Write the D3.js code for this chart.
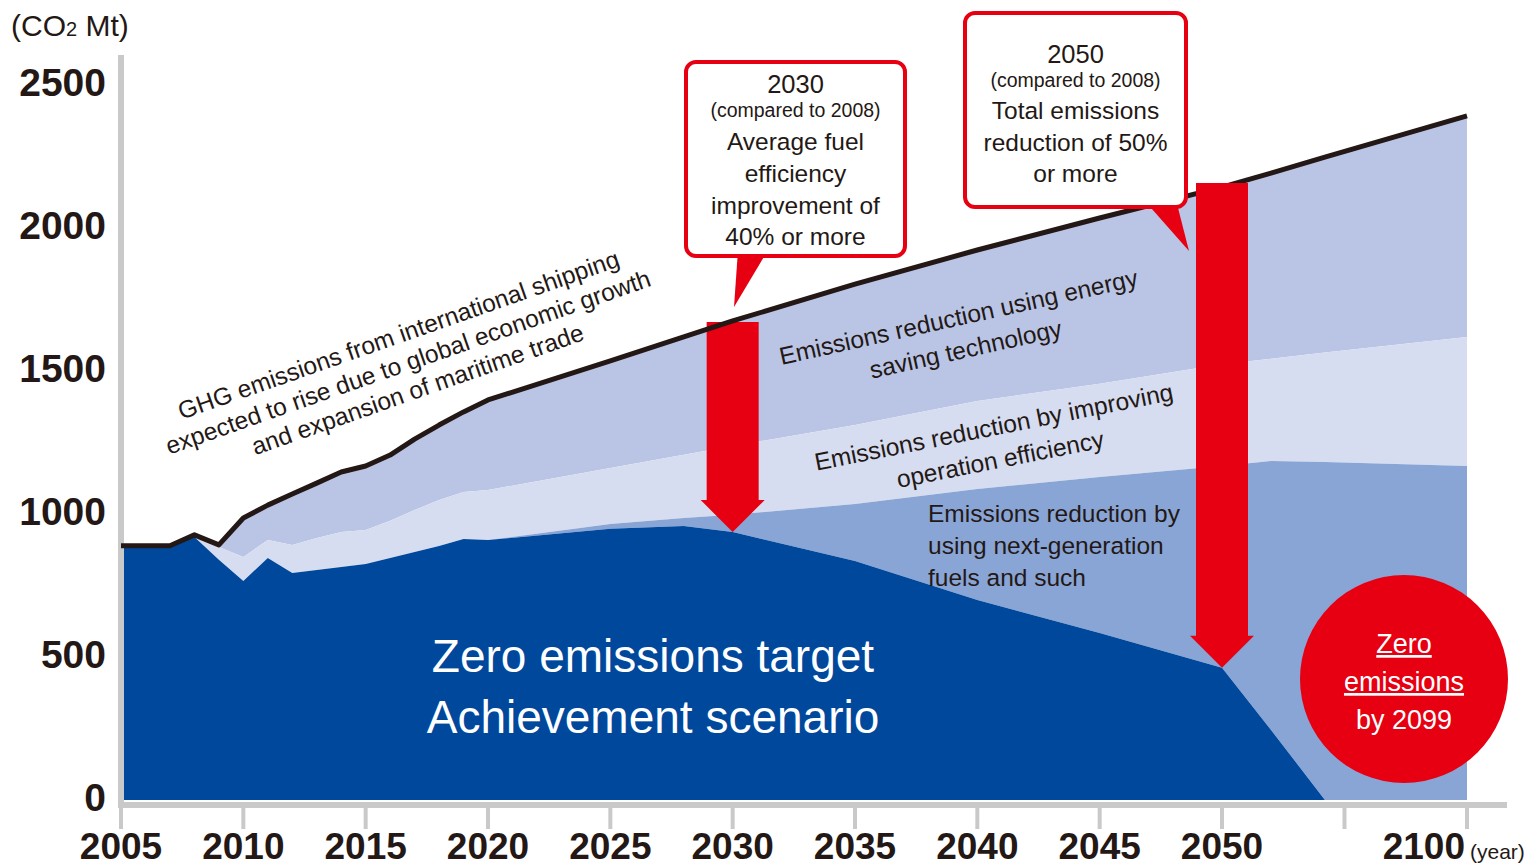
<!DOCTYPE html>
<html>
<head>
<meta charset="utf-8">
<script src="https://cdn.jsdelivr.net/npm/d3@7"></script>
<style>
  body { margin: 0; background: #fff; }
  svg text { font-family: "Liberation Sans", Arial, sans-serif; fill: #231815; }
</style>
</head>
<body>
<div id="chart"></div>
<script>
var width = 1529;
var height = 867;

// years on the x axis (2050 -> 2100 is compressed)
var years   = [2005,2006,2007,2008,2009,2010,2011,2012,2013,2014,2015,2016,2017,2018,2019,2020,2025,2028,2030,2035,2040,2045,2050,2060,2071,2100];
// business as usual total (black line)
var bau     = [889,889,889,927,892,986,1031,1070,1108,1147,1168,1206,1262,1311,1357,1399,1535,1619,1675,1804,1923,2035,2143,2192,2248,2392];
// top of "operation efficiency" band
var opTop   = [889,889,889,927,885,850,909,892,916,937,944,976,1014,1049,1077,1084,1161,1207,1238,1311,1395,1455,1524,1543,1565,1619];
// top of "next-generation fuels" band
var fuelTop = [889,889,889,920,840,766,846,794,804,815,825,846,867,888,913,909,965,986,997,1035,1087,1129,1168,1185,1182,1168];
// zero emissions scenario
var zero    = [889,889,889,920,840,766,846,794,804,815,825,846,867,888,913,909,948,958,937,836,699,584,462,245,0,0];

var yTicks = [0, 500, 1000, 1500, 2000, 2500];
var xTicks = [2005,2010,2015,2020,2025,2030,2035,2040,2045,2050,2075,2100];
var xLabels = {2005:"2005",2010:"2010",2015:"2015",2020:"2020",2025:"2025",2030:"2030",
               2035:"2035",2040:"2040",2045:"2045",2050:"2050",2075:"",2100:"2100"};

var svg = d3.select("#chart").append("svg")
    .attr("width", width)
    .attr("height", height);

var x = d3.scaleLinear().domain([2005, 2050, 2100]).range([121, 1222, 1467]);
var y = d3.scaleLinear().domain([0, 2500]).range([800, 85]);

var rows = years.map(function(yr, i) {
  return { year: yr, bau: bau[i], op: opTop[i], fuel: fuelTop[i], zero: zero[i] };
});

// stacked bands, drawn between boundaries
function band(lo, hi) {
  return d3.area()
    .x(function(d) { return x(d.year); })
    .y0(function(d) { return lo ? y(d[lo]) : y(0); })
    .y1(function(d) { return y(d[hi]); });
}

svg.append("path").datum(rows).attr("fill", "#bac5e6").attr("d", band("op", "bau"));
svg.append("path").datum(rows).attr("fill", "#d6ddf0").attr("d", band("fuel", "op"));
svg.append("path").datum(rows).attr("fill", "#89a5d5").attr("d", band("zero", "fuel"));
svg.append("path").datum(rows).attr("fill", "#00489c").attr("d", band(null, "zero"));

// axes (gray bars)
svg.append("rect").attr("x", 118).attr("y", 55).attr("width", 6).attr("height", 753).attr("fill", "#c9c9c9");
svg.append("rect").attr("x", 118).attr("y", 802).attr("width", 1389).attr("height", 6).attr("fill", "#c9c9c9");

svg.selectAll(".xtick").data(xTicks).enter().append("rect")
    .attr("class", "xtick")
    .attr("x", function(d) { return x(d) - 2; })
    .attr("y", 805).attr("width", 4).attr("height", 24)
    .attr("fill", "#c9c9c9");

svg.selectAll(".xlab").data(xTicks).enter().append("text")
    .attr("class", "xlab")
    .attr("x", function(d) { return d === 2100 ? x(d) - 2 : x(d); })
    .attr("y", 859)
    .attr("text-anchor", function(d) { return d === 2100 ? "end" : "middle"; })
    .style("font-size", "37px").style("font-weight", "bold")
    .text(function(d) { return xLabels[d]; });

svg.selectAll(".ylab").data(yTicks).enter().append("text")
    .attr("class", "ylab")
    .attr("x", 106)
    .attr("y", function(d) { return y(d) + 11; })
    .attr("text-anchor", "end")
    .style("font-size", "39px").style("font-weight", "bold")
    .text(function(d) { return d; });

svg.append("text").attr("x", 1470).attr("y", 859).style("font-size", "21px").text("(year)");

var unit = svg.append("text").attr("x", 11).attr("y", 36).style("font-size", "30px");
unit.append("tspan").text("(CO");
unit.append("tspan").style("font-size", "20px").text("2");
unit.append("tspan").text(" Mt)");

// red arrows
function arrow(yr, yTop) {
  var cx = x(yr), tip = y(zero[years.indexOf(yr)]);
  var headY = tip - 32;
  svg.append("path")
    .attr("fill", "#e60012")
    .attr("d", "M" + (cx - 26) + "," + yTop + "H" + (cx + 26) + "V" + headY +
               "H" + (cx + 32) + "L" + cx + "," + tip + "L" + (cx - 32) + "," + headY +
               "H" + (cx - 26) + "Z");
}
arrow(2030, y(bau[years.indexOf(2030)]) + 1);

// business as usual line
svg.append("path").datum(rows)
    .attr("fill", "none")
    .attr("stroke", "#231815")
    .attr("stroke-width", 5)
    .attr("stroke-linejoin", "round")
    .attr("d", d3.line().x(function(d) { return x(d.year); }).y(function(d) { return y(d.bau); }));

arrow(2050, y(bau[years.indexOf(2050)]) - 4);

// callouts
function callout(bx, by, bw, bh, ptr, lines) {
  svg.append("path").attr("fill", "#e60012").attr("d", ptr);
  svg.append("rect")
    .attr("x", bx).attr("y", by).attr("width", bw).attr("height", bh)
    .attr("rx", 10)
    .attr("fill", "#fff").attr("stroke", "#e60012").attr("stroke-width", 4);
  lines.forEach(function(l) {
    svg.append("text")
      .attr("x", bx + bw / 2).attr("y", l[1])
      .attr("text-anchor", "middle")
      .style("font-size", l[2] + "px")
      .text(l[0]);
  });
}
callout(686, 62, 219, 194, "M738,250L768,250L734,307Z", [
  ["2030", 93, 25.5], ["(compared to 2008)", 117, 19.5], ["Average fuel", 150, 24.5],
  ["efficiency", 182, 24.5], ["improvement of", 214, 24.5], ["40% or more", 245, 24.5]
]);
callout(965, 13, 221, 194, "M1144,200L1176,200L1189,251Z", [
  ["2050", 63, 25.5], ["(compared to 2008)", 87, 19.5], ["Total emissions", 119, 24.5],
  ["reduction of 50%", 151, 24.5], ["or more", 182, 24.5]
]);

// rotated labels
function tilted(cx, cy, ang, gap, lines) {
  var t = svg.append("text")
    .attr("transform", "translate(" + cx + "," + cy + ") rotate(" + ang + ")")
    .attr("text-anchor", "middle")
    .style("font-size", "24.5px");
  var off = -(lines.length - 1) / 2 * gap;
  lines.forEach(function(l, i) {
    t.append("tspan").attr("x", 0).attr("y", off + i * gap).attr("dy", "0.35em").text(l);
  });
}
tilted(408, 362, -19.3, 29, ["GHG emissions from international shipping",
  "expected to rise due to global economic growth", "and expansion of maritime trade"]);
tilted(962, 333, -12.5, 33, ["Emissions reduction using energy", "saving technology"]);
tilted(997, 443, -11.2, 33, ["Emissions reduction by improving", "operation efficiency"]);

var fuels = ["Emissions reduction by", "using next-generation", "fuels and such"];
fuels.forEach(function(l, i) {
  svg.append("text").attr("x", 928).attr("y", 522 + i * 32).style("font-size", "24.5px").text(l);
});

["Zero emissions target", "Achievement scenario"].forEach(function(l, i) {
  svg.append("text").attr("x", 653).attr("y", 672 + i * 61)
    .attr("text-anchor", "middle")
    .style("font-size", "46px").style("fill", "#fff")
    .text(l);
});

// zero emissions badge
svg.append("circle").attr("cx", 1404).attr("cy", 679).attr("r", 104).attr("fill", "#e60012");
[["Zero", 653, true], ["emissions", 691, true], ["by 2099", 729, false]].forEach(function(l) {
  svg.append("text").attr("x", 1404).attr("y", l[1])
    .attr("text-anchor", "middle")
    .style("font-size", "27px").style("fill", "#fff")
    .style("text-decoration", l[2] ? "underline" : "none")
    .text(l[0]);
});
</script>
</body>
</html>
